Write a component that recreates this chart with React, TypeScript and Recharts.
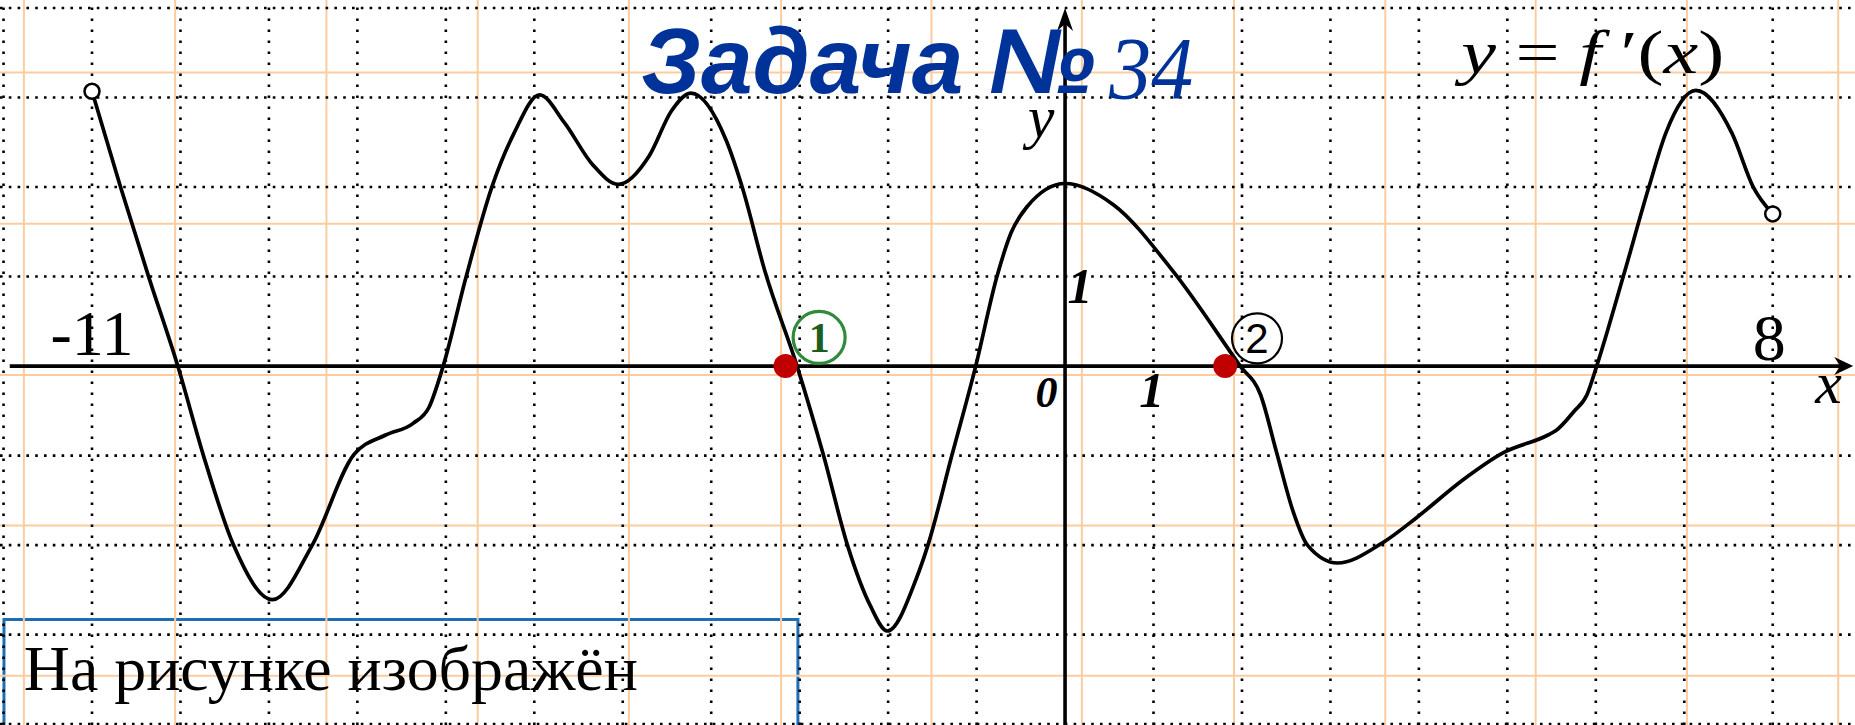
import React from 'react';
import { ComposedChart, Line, Scatter, XAxis, YAxis, ReferenceLine, ReferenceDot, ReferenceArea } from 'recharts';

// graph of y = f'(x) (1 dotted cell = 1 unit)
const curveX = [-11, -10.68, -10.36, -10.03, -9.74, -9.4, -8.96, -8.51, -8.04, -7.68, -7.37, -7.19, -7.03, -6.77, -6.48, -6.23, -5.94, -5.66, -5.34, -5.05, -4.7, -4.45, -4.23, -3.83, -3.65, -3.39, -3.03, -2.73, -2.46, -2.2, -2.01, -1.68, -1.55, -1.28, -1.01, -0.77, -0.61, -0.43, 0, 0.55, 1.22, 1.98, 2.21, 2.39, 2.58, 2.74, 3.08, 3.58, 3.99, 4.5, 4.95, 5.46, 5.55, 5.75, 5.9, 6.01, 6.31, 6.6, 6.79, 7.13, 7.54, 7.78, 8];
const curveY = [3.07, 2.01, 1.0, 0, -1.0, -2.0, -2.61, -2.0, -0.99, -0.77, -0.64, -0.46, 0, 1.0, 2.0, 2.6, 3.03, 2.72, 2.25, 2.03, 2.35, 2.85, 3.05, 2.52, 2.0, 1.05, 0, -1.0, -2.0, -2.68, -2.96, -2.37, -2.0, -1.0, 0, 1.0, 1.49, 1.78, 2.04, 1.8, 1.06, 0, -0.32, -0.96, -1.63, -2.0, -2.2, -1.98, -1.68, -1.27, -0.97, -0.77, -0.72, -0.51, -0.32, 0, 1.0, 2.0, 2.6, 3.08, 2.6, 2.0, 1.7];

const endPoints = [{ x: -11, y: 3.07 }, { x: 8, y: 1.7 }];
const markedPoints = [{ x: -3.16, y: 0 }, { x: 1.81, y: 0 }];

// background paper
const dotGridX = [-12, -11, -10, -9, -8, -7, -6, -5, -4, -3, -2, -1, 1, 2, 3, 4, 5, 6, 7, 8];
const dotGridY = [-4, -3, -2, -1, 1, 2, 3, 4];
const paperX = [-11.77, -10.06, -8.35, -6.64, -4.93, -3.21, -1.51, 0.19, 1.91, 3.62, 5.32, 7.03, 8.74];
const paperY = [3.28, 1.59, -0.1, -1.78, -3.46];

const curve = curveX.map((x, i) => ({ x, y: curveY[i] }));

const serif = '"Liberation Serif", "Times New Roman", serif';
const sans = '"Liberation Sans", Arial, sans-serif';
const blue = '#003399';

const note = (key: string, x: number, y: number, content: (cx: number, cy: number) => React.ReactElement) => (
  <ReferenceDot key={key} x={x} y={y} r={0} ifOverflow="visible" shape={(p: any) => content(p.cx, p.cy)} />
);

export default function App() {
  return (
    <div style={{ position: 'absolute', left: 0, top: 0, width: 1855, height: 725, background: '#fff' }}>
      <ComposedChart width={1855} height={725} data={curve} margin={{ top: 0, right: 0, bottom: 0, left: 0 }}>
        <XAxis type="number" dataKey="x" domain={[-12.04, 8.93]} hide allowDataOverflow />
        <YAxis type="number" domain={[-4.01, 4.09]} hide allowDataOverflow />

        {paperX.map((v) => (
          <ReferenceLine key={'px' + v} x={v} stroke="#FDCC9E" strokeWidth={2} ifOverflow="visible" />
        ))}
        {paperY.map((v) => (
          <ReferenceLine key={'py' + v} y={v} stroke="#FDCC9E" strokeWidth={2} ifOverflow="visible" />
        ))}
        {dotGridX.map((v) => (
          <ReferenceLine key={'gx' + v} x={v} stroke="#000" strokeWidth={2.6} strokeDasharray="2.6 8.4" ifOverflow="visible" />
        ))}
        {dotGridY.map((v) => (
          <ReferenceLine key={'gy' + v} y={v} stroke="#000" strokeWidth={2.6} strokeDasharray="2.6 6.2" ifOverflow="visible" />
        ))}

        {/* text box */}
        <ReferenceArea x1={-11.995} x2={-3.02} y1={-4.2} y2={-2.83} fill="none" stroke="#1F6EB5" strokeWidth={3} ifOverflow="visible" />

        {/* axes */}
        <ReferenceLine segment={[{ x: -11.93, y: 0 }, { x: 8.8, y: 0 }]} stroke="#000" strokeWidth={3.6} ifOverflow="visible" />
        <ReferenceLine segment={[{ x: 0, y: -4.01 }, { x: 0, y: 3.9 }]} stroke="#000" strokeWidth={3.6} ifOverflow="visible" />
        {note('arrowX', 8.91, 0, (cx, cy) => (
          <path d={`M${cx},${cy} L${cx - 19},${cy - 9} L${cx - 13},${cy} L${cx - 19},${cy + 9} Z`} fill="#000" />
        ))}
        {note('arrowY', 0, 4.0, (cx, cy) => (
          <path d={`M${cx},${cy} L${cx - 8},${cy + 23} L${cx},${cy + 16} L${cx + 8},${cy + 23} Z`} fill="#000" />
        ))}

        <Line dataKey="y" type="monotone" stroke="#000" strokeWidth={3.7} dot={false} activeDot={false} isAnimationActive={false} />

        <Scatter
          data={markedPoints}
          dataKey="y"
          isAnimationActive={false}
          shape={(p: any) => <circle cx={p.cx} cy={p.cy} r={12} fill="#C00000" />}
        />
        <Scatter
          data={endPoints}
          dataKey="y"
          isAnimationActive={false}
          shape={(p: any) => <circle cx={p.cx} cy={p.cy} r={7.5} fill="#fff" stroke="#000" strokeWidth={2.5} />}
        />

        {/* circled marks */}
        {note('c1', -2.78, 0.32, (cx, cy) => (
          <g>
            <circle cx={cx} cy={cy} r={26} fill="none" stroke="#2F8A3A" strokeWidth={3.2} />
            <text x={cx} y={cy + 15} textAnchor="middle" fontFamily={serif} fontWeight="bold" fontSize={42} fill="#1B5E20">1</text>
          </g>
        ))}
        {note('c2', 2.17, 0.31, (cx, cy) => (
          <g>
            <circle cx={cx} cy={cy} r={25} fill="none" stroke="#000" strokeWidth={2.2} />
            <text x={cx} y={cy + 15} textAnchor="middle" fontFamily={sans} fontSize={42} fill="#000">2</text>
          </g>
        ))}

        {/* axis labels */}
        {note('lm11', -11.0, 0.12, (cx, cy) => (
          <text x={cx} y={cy} textAnchor="middle" fontFamily={serif} fontSize={64} fill="#000">-11</text>
        ))}
        {note('l8', 7.96, 0.07, (cx, cy) => (
          <text x={cx} y={cy} textAnchor="middle" fontFamily={serif} fontSize={66} fill="#000">8</text>
        ))}
        {note('l0', -0.21, -0.46, (cx, cy) => (
          <text x={cx} y={cy} textAnchor="middle" fontFamily={serif} fontStyle="italic" fontWeight="bold" fontSize={44} fill="#000">0</text>
        ))}
        {note('l1x', 0.98, -0.46, (cx, cy) => (
          <text x={cx} y={cy} textAnchor="middle" fontFamily={serif} fontStyle="italic" fontWeight="bold" fontSize={50} fill="#000">1</text>
        ))}
        {note('l1y', 0.17, 0.7, (cx, cy) => (
          <text x={cx} y={cy} textAnchor="middle" fontFamily={serif} fontStyle="italic" fontWeight="bold" fontSize={50} fill="#000">1</text>
        ))}
        {note('ly', -0.27, 2.56, (cx, cy) => (
          <text x={cx} y={cy} textAnchor="middle" fontFamily={serif} fontStyle="italic" fontSize={60} fill="#000">y</text>
        ))}
        {note('lx', 8.63, -0.41, (cx, cy) => (
          <text x={cx} y={cy} textAnchor="middle" fontFamily={serif} fontStyle="italic" fontSize={60} fill="#000">x</text>
        ))}

        {/* captions */}
        {note('fn', 4.48, 3.28, (cx, cy) => (
          <text x={cx} y={cy} fontFamily={serif} fontSize={62} fill="#000" textLength={263} lengthAdjust="spacingAndGlyphs">
            <tspan fontStyle="italic">y</tspan>
            <tspan> = </tspan>
            <tspan fontStyle="italic">f</tspan>
            <tspan> ′(</tspan>
            <tspan fontStyle="italic">x</tspan>
            <tspan>)</tspan>
          </text>
        ))}
        {note('title', -4.79, 3.05, (cx, cy) => (
          <text x={cx} y={cy} fontFamily={sans} fontWeight="bold" fontStyle="italic" fontSize={92} fill={blue} textLength={454} lengthAdjust="spacingAndGlyphs">
            Задача №
          </text>
        ))}
        {note('title34', 0.5, 3.0, (cx, cy) => (
          <text x={cx} y={cy} fontFamily={serif} fontStyle="italic" fontSize={88} fill={blue} textLength={84} lengthAdjust="spacingAndGlyphs">
            34
          </text>
        ))}
        {note('box', -11.77, -3.62, (cx, cy) => (
          <text x={cx} y={cy} fontFamily={serif} fontSize={63} fill="#000" textLength={614} lengthAdjust="spacingAndGlyphs">
            На рисунке изображён
          </text>
        ))}
      </ComposedChart>
    </div>
  );
}
